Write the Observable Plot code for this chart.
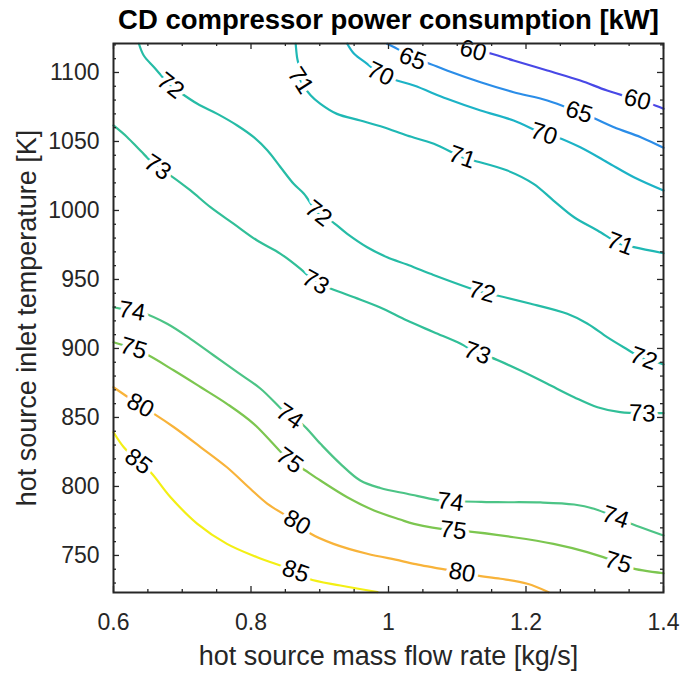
<!DOCTYPE html>
<html>
<head>
<meta charset="utf-8">
<script src="https://cdn.jsdelivr.net/npm/d3@7"></script>
<script src="https://cdn.jsdelivr.net/npm/@observablehq/plot@0.6"></script>
<style>
  html, body { margin: 0; padding: 0; background: #ffffff; }
</style>
</head>
<body>
<div id="chart"></div>
<script>
// ---- text ----
const titleText = "CD compressor power consumption [kW]";
const xLabelText = "hot source mass flow rate [kg/s]";
const yLabelText = "hot source inlet temperature [K]";

// ---- ticks ----
const majorX = [0.6, 0.8, 1.0, 1.2, 1.4];
const minorX = [0.65, 0.7, 0.75, 0.85, 0.9, 0.95, 1.05, 1.1, 1.15, 1.25, 1.3, 1.35];
const majorY = [750, 800, 850, 900, 950, 1000, 1050, 1100];
const minorY = [730, 740, 760, 770, 780, 790, 810, 820, 830, 840, 860, 870, 880, 890,
                910, 920, 930, 940, 960, 970, 980, 990, 1010, 1020, 1030, 1040,
                1060, 1070, 1080, 1090, 1110, 1120];

// ---- contour levels and colours (parula) ----
const levels = [60, 65, 70, 71, 72, 73, 74, 75, 80, 85];
const levelColors = ["#4848e6", "#2b8de8", "#1cb3c6", "#1fb8b4", "#26bca6", "#31bf98",
                     "#4cc486", "#7cc650", "#f8b33a", "#f3ef14"];

// ---- contour lines: [mass flow, temperature] ----
const c60 = [[1.105,1120.6],[1.123,1115.9],[1.141,1114.7],[1.182,1108.7],[1.231,1101.4],[1.279,1094.2],
             [1.318,1086.9],[1.362,1080.2],[1.381,1077.3],[1.4,1073.7]];
const c65 = [[0.998,1120.8],[1.017,1115.9],[1.035,1109.9],[1.054,1107.4],[1.085,1101.4],[1.134,1092.9],
             [1.182,1085.7],[1.231,1079.7],[1.277,1071.2],[1.296,1067.6],[1.328,1060.3],[1.367,1053.1],[1.4,1045.4]];
const c70 = [[0.940,1120.8],[0.950,1113.5],[0.969,1106.3],[0.988,1099.0],[1.008,1094.9],[1.037,1090.5],
             [1.085,1080.9],[1.134,1072.4],[1.182,1065.2],[1.226,1055.5],[1.245,1053.1],[1.279,1045.8],
             [1.318,1035.0],[1.357,1024.1],[1.4,1014.5]];
const c71 = [[0.865,1120.8],[0.867,1111.0],[0.870,1103.8],[0.872,1094.2],[0.887,1083.3],[0.901,1077.3],
             [0.925,1070.0],[0.959,1065.2],[0.993,1060.3],[1.027,1054.3],[1.066,1048.3],[1.107,1038.6],
             [1.124,1036.2],[1.173,1028.9],[1.211,1019.3],[1.240,1007.2],[1.270,995.1],[1.304,985.5],
             [1.337,975.8],[1.357,973.4],[1.4,969.0]];
const c72 = [[0.637,1120.8],[0.644,1112.3],[0.659,1103.8],[0.683,1090.5],[0.693,1086.9],[0.722,1077.3],
             [0.751,1070.0],[0.780,1061.6],[0.804,1053.1],[0.824,1043.4],[0.843,1031.3],[0.862,1019.3],
             [0.877,1012.1],[0.898,997.8],[0.916,992.7],[0.940,983.1],[0.969,973.4],[0.998,966.1],
             [1.027,960.8],[1.061,954.1],[1.136,940.8],[1.158,938.4],[1.207,932.4],[1.260,925.1],
             [1.289,918.1],[1.318,908.2],[1.342,900.9],[1.371,892.7],[1.391,890.0],[1.4,888.4]];
const c73 = [[0.6,1061.6],[0.620,1053.1],[0.639,1043.4],[0.664,1031.3],[0.683,1025.3],[0.712,1014.5],
             [0.741,1002.4],[0.775,990.3],[0.809,978.2],[0.843,968.6],[0.872,957.7],[0.894,948.0],
             [0.911,944.4],[0.950,937.1],[0.988,929.7],[1.027,920.2],[1.066,911.8],[1.105,903.4],
             [1.129,896.6],[1.148,893.7],[1.192,884.0],[1.231,874.4],[1.270,864.7],[1.304,857.4],
             [1.337,853.8],[1.369,852.9],[1.386,853.1],[1.4,853.1]];
const c74 = [[0.6,929.9],[0.627,927.1],[0.644,925.5],[0.678,917.9],[0.712,907.0],[0.746,894.9],
             [0.780,882.8],[0.814,870.8],[0.856,850.7],[0.874,845.4],[0.901,830.9],[0.930,816.4],
             [0.959,804.3],[0.988,798.9],[1.027,794.7],[1.090,788.7],[1.107,789.1],[1.158,788.6],
             [1.221,788.4],[1.270,786.9],[1.299,783.8],[1.330,777.7],[1.347,774.1],[1.4,764.5]];
const c75 = [[0.6,904.5],[0.629,900.0],[0.647,896.1],[0.688,884.0],[0.727,871.9],[0.765,859.9],
             [0.804,845.4],[0.856,818.8],[0.872,813.9],[0.901,804.3],[0.940,792.2],[0.979,782.6],
             [1.017,776.0],[1.037,772.9],[1.094,768.1],[1.112,767.6],[1.182,763.2],[1.240,758.4],
             [1.289,752.4],[1.334,744.9],[1.352,741.0],[1.4,737.1]];
const c80 = [[0.6,871.9],[0.639,858.7],[0.659,852.6],[0.688,842.9],[0.727,828.4],[0.765,813.9],
             [0.799,798.3],[0.824,787.4],[0.867,773.9],[0.887,765.7],[0.920,758.4],[0.969,751.2],
             [1.017,746.3],[1.037,743.9],[1.107,737.6],[1.127,735.5],[1.163,733.1],[1.202,729.5],[1.233,723.4]];
const c85 = [[0.6,839.3],[0.615,828.4],[0.636,818.1],[0.654,810.3],[0.683,792.2],[0.722,772.9],
             [0.765,758.4],[0.809,748.7],[0.865,738.4],[0.884,733.1],[0.930,728.2],[0.984,723.4]];

// ---- in-line contour labels: [level, mass flow, temperature] ----
const contourLabels = [
  [60,1.123,1115.9],[60,1.362,1080.2],
  [65,1.035,1109.9],[65,1.277,1071.2],
  [70,0.988,1099.0],[70,1.226,1055.5],
  [71,0.872,1094.2],[71,1.107,1038.6],[71,1.337,975.8],
  [72,0.683,1090.5],[72,0.898,997.8],[72,1.136,940.8],[72,1.371,892.7],
  [73,0.664,1031.3],[73,0.894,948.0],[73,1.129,896.6],[73,1.369,852.9],
  [74,0.627,927.1],[74,0.856,850.7],[74,1.090,788.7],[74,1.330,777.7],
  [75,0.629,900.0],[75,0.856,818.8],[75,1.094,768.1],[75,1.334,744.9],
  [80,0.639,858.7],[80,0.867,773.9],[80,1.107,737.6],
  [85,0.636,818.1],[85,0.865,738.4]
];

// ---- layout ----
const W = 698, H = 674;
const mL = 113, mR = 35, mT = 43, mB = 82;
const FW = W - mL - mR, FH = H - mT - mB;
const xDomain = [0.6, 1.4], yDomain = [723.15, 1121];
const xs = d3.scaleLinear(xDomain, [mL, W - mR]);
const ys = d3.scaleLinear(yDomain, [H - mB, mT]);

const contours = {60: c60, 65: c65, 70: c70, 71: c71, 72: c72, 73: c73, 74: c74, 75: c75, 80: c80, 85: c85};
const lineRows = levels.flatMap(L => contours[L].map(([x, y]) => ({L, x, y})));

const labelRows = contourLabels.map(([L, x, y]) => {
  const pts = contours[L];
  let best = 0, bd = Infinity;
  pts.forEach(([px, py], i) => {
    const d = Math.hypot(xs(px) - xs(x), ys(py) - ys(y));
    if (d < bd) { bd = d; best = i; }
  });
  const a = pts[Math.max(0, best - 1)], b = pts[Math.min(pts.length - 1, best + 1)];
  let ang = Math.atan2(ys(b[1]) - ys(a[1]), xs(b[0]) - xs(a[0])) * 180 / Math.PI;
  if (ang > 90) ang -= 180;
  if (ang < -90) ang += 180;
  return {L, x, y, angle: ang * 0.85, label: String(L)};
});

const axisColor = "#262626";
const tickStyle = {stroke: axisColor, strokeWidth: 1.3};
const fontFamily = "'Liberation Sans', Arial, Helvetica, sans-serif";

const chart = Plot.plot({
  width: W, height: H,
  marginLeft: mL, marginRight: mR, marginTop: mT, marginBottom: mB,
  style: {fontFamily, background: "#ffffff", color: axisColor},
  x: {domain: xDomain, axis: null},
  y: {domain: yDomain, axis: null},
  color: {type: "ordinal", domain: levels, range: levelColors},
  marks: [
    Plot.line(lineRows, {x: "x", y: "y", z: "L", stroke: "L", strokeWidth: 2.2, curve: "catmull-rom"}),
    Plot.text(labelRows, {x: "x", y: "y", text: "label", rotate: "angle", fontSize: 24, fill: "#000000",
      stroke: "#ffffff", strokeWidth: 8, strokeLinejoin: "round", paintOrder: "stroke",
      textAnchor: "middle", lineAnchor: "middle"}),
    Plot.frame({stroke: axisColor, strokeWidth: 2}),
    Plot.tickX(majorX, {x: d => d, insetTop: FH - 6, ...tickStyle}),
    Plot.tickX(majorX, {x: d => d, insetBottom: FH - 6, ...tickStyle}),
    Plot.tickX(minorX, {x: d => d, insetTop: FH - 3, ...tickStyle}),
    Plot.tickX(minorX, {x: d => d, insetBottom: FH - 3, ...tickStyle}),
    Plot.tickY(majorY, {y: d => d, insetRight: FW - 6, ...tickStyle}),
    Plot.tickY(majorY, {y: d => d, insetLeft: FW - 6, ...tickStyle}),
    Plot.tickY(minorY, {y: d => d, insetRight: FW - 3, ...tickStyle}),
    Plot.tickY(minorY, {y: d => d, insetLeft: FW - 3, ...tickStyle}),
    // tick labels
    Plot.text(majorX, {x: d => d, text: d => String(d), frameAnchor: "bottom", dy: 30, fontSize: 23,
      fill: axisColor, textAnchor: "middle", lineAnchor: "middle"}),
    Plot.text(majorY, {y: d => d, text: d => String(d), frameAnchor: "left", dx: -14, fontSize: 23,
      fill: axisColor, textAnchor: "end", lineAnchor: "middle"}),
    // title and axis labels
    Plot.text([titleText], {text: d => d, frameAnchor: "top", dy: -23, fontSize: 27.5, fontWeight: "bold",
      fill: "#000000", textAnchor: "middle", lineAnchor: "middle"}),
    Plot.text([xLabelText], {text: d => d, frameAnchor: "bottom", dy: 64, fontSize: 27,
      fill: axisColor, textAnchor: "middle", lineAnchor: "middle"}),
    Plot.text([yLabelText], {text: d => d, frameAnchor: "left", dx: -86, rotate: -90, fontSize: 27,
      fill: axisColor, textAnchor: "middle", lineAnchor: "middle"})
  ]
});
document.getElementById("chart").appendChild(chart);
</script>
</body>
</html>
